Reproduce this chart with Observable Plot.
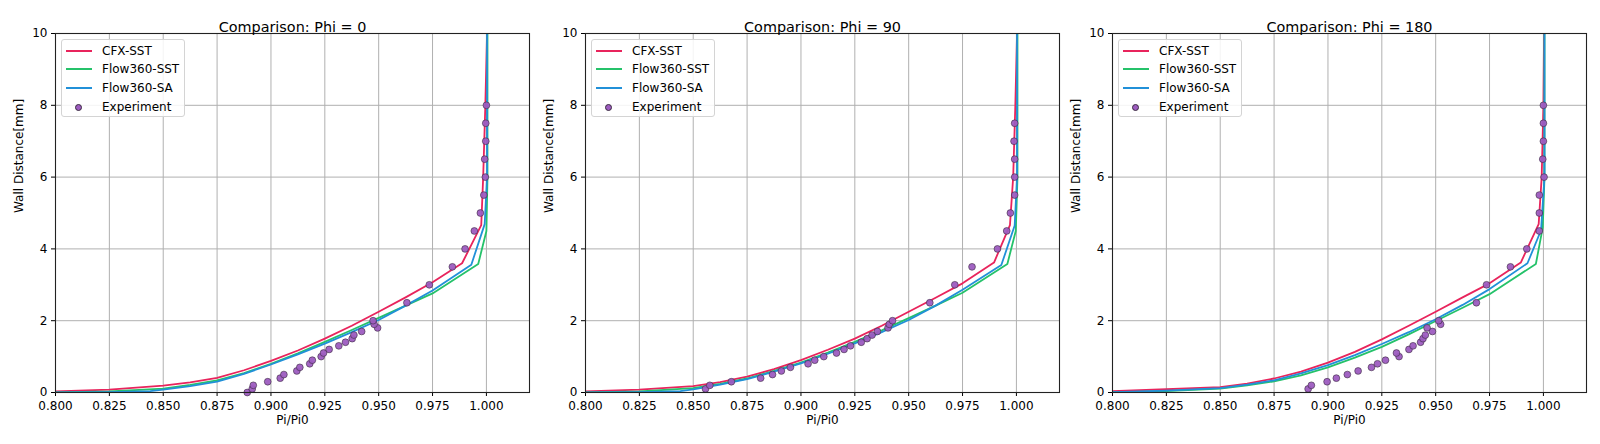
<!DOCTYPE html>
<html><head><meta charset="utf-8">
<script src="https://cdn.jsdelivr.net/npm/d3@7"></script>
<script src="https://cdn.jsdelivr.net/npm/@observablehq/plot@0.6"></script>
<style>
body{margin:0;background:#fff;}
#wrap{position:relative;width:1600px;height:444px;overflow:hidden;font-family:"DejaVu Sans",sans-serif;}
.panel{position:absolute;top:0;}
.legend{position:absolute;top:39px;width:124px;height:78px;box-sizing:border-box;border:1px solid #d4d4d4;border-radius:3px;background:rgba(255,255,255,0.85);font-size:12px;color:#000;}
.legend .row{position:absolute;left:0;height:0;}
.legend .sw{position:absolute;left:4px;width:26px;height:2px;margin-top:-1px;}
.legend .dot{position:absolute;left:13px;width:7px;height:7px;margin-top:-3.5px;border-radius:50%;background:#9d5cc0;border:0.6px solid #3a2a40;box-sizing:border-box;}
.legend .lab{position:absolute;left:40px;top:-8px;white-space:nowrap;line-height:16px;}
</style></head><body><div id="wrap"></div>
<script>
// ---- axis ticks ----
const xTicks = [0.800, 0.825, 0.850, 0.875, 0.900, 0.925, 0.950, 0.975, 1.000];
const yTicks = [0, 2, 4, 6, 8, 10];
const seriesNames = ["CFX-SST", "Flow360-SST", "Flow360-SA", "Experiment"];
const seriesColors = ["#e8245c", "#25c26a", "#2190d8", "#9d5cc0"];
const titles = ["Comparison: Phi = 0", "Comparison: Phi = 90", "Comparison: Phi = 180"];

// ---- Phi = 0 ----
const cfx0X = [0.770, 0.800, 0.825, 0.850, 0.8625, 0.875, 0.8875, 0.900, 0.9125, 0.925, 0.9375, 0.950, 0.9625, 0.975, 0.9887, 0.9976, 0.9985, 0.9995, 1.0003];
const cfx0Y = [0, 0.03, 0.08, 0.19, 0.28, 0.41, 0.62, 0.88, 1.17, 1.50, 1.86, 2.25, 2.65, 3.07, 3.60, 4.66, 6, 8, 10];
const sst0X = [0.780, 0.800, 0.825, 0.850, 0.8625, 0.875, 0.8875, 0.900, 0.9125, 0.925, 0.9375, 0.950, 0.9625, 0.975, 0.9962, 1.0000, 1.0005, 1.0005];
const sst0Y = [0, 0.005, 0.03, 0.11, 0.21, 0.34, 0.54, 0.80, 1.09, 1.41, 1.74, 2.08, 2.42, 2.76, 3.58, 4.50, 6, 10];
const sa0X = [0.780, 0.800, 0.825, 0.844, 0.850, 0.8625, 0.875, 0.8875, 0.900, 0.9125, 0.925, 0.9375, 0.950, 0.9625, 0.975, 0.993, 0.9992, 1.0003, 1.0003];
const sa0Y = [0, 0.002, 0.01, 0.04, 0.08, 0.18, 0.30, 0.52, 0.78, 1.06, 1.36, 1.68, 2.02, 2.42, 2.84, 3.56, 4.69, 6, 10];
const exp0X = [0.8890, 0.8913, 0.8918, 0.8985, 0.9043, 0.9060, 0.9120, 0.9134, 0.9180, 0.9192, 0.9233, 0.9244, 0.9270, 0.9315, 0.9346, 0.9377, 0.9385, 0.9421, 0.9495, 0.9479, 0.9474, 0.9631, 0.9735, 0.9842, 0.9901, 0.9944, 0.9972, 0.9988, 0.9995, 0.9992, 0.9997, 0.9997, 1.0000];
const exp0Y = [0, 0.1, 0.2, 0.3, 0.4, 0.5, 0.6, 0.7, 0.8, 0.9, 1.0, 1.1, 1.2, 1.3, 1.4, 1.5, 1.6, 1.7, 1.8, 1.9, 2.0, 2.5, 3.0, 3.5, 4.0, 4.5, 5.0, 5.5, 6.0, 6.5, 7.0, 7.5, 8.0];

// ---- Phi = 90 ----
const cfx90X = [0.770, 0.800, 0.825, 0.850, 0.8625, 0.875, 0.8875, 0.900, 0.9125, 0.925, 0.9375, 0.950, 0.9625, 0.975, 0.9896, 0.9970, 0.9985, 0.9995, 1.0003];
const cfx90Y = [0, 0.03, 0.08, 0.18, 0.29, 0.44, 0.65, 0.90, 1.19, 1.50, 1.86, 2.25, 2.64, 3.04, 3.62, 4.66, 6, 8, 10];
const sst90X = [0.780, 0.800, 0.825, 0.850, 0.8625, 0.875, 0.8875, 0.900, 0.9125, 0.925, 0.9375, 0.950, 0.9625, 0.975, 0.9958, 0.9997, 1.0005, 1.0005];
const sst90Y = [0, 0.005, 0.03, 0.12, 0.24, 0.39, 0.60, 0.83, 1.11, 1.41, 1.73, 2.07, 2.42, 2.78, 3.58, 4.50, 6, 10];
const sa90X = [0.780, 0.800, 0.825, 0.844, 0.850, 0.8625, 0.875, 0.8875, 0.900, 0.9125, 0.925, 0.9375, 0.950, 0.9625, 0.975, 0.993, 0.9992, 1.0003, 1.0003];
const sa90Y = [0, 0.002, 0.01, 0.04, 0.09, 0.22, 0.37, 0.58, 0.81, 1.08, 1.37, 1.68, 2.02, 2.42, 2.86, 3.55, 4.65, 6, 10];
const exp90X = [0.8557, 0.8577, 0.8677, 0.8813, 0.8868, 0.8909, 0.8951, 0.9033, 0.9064, 0.9106, 0.9165, 0.9200, 0.9230, 0.9280, 0.9307, 0.9330, 0.9355, 0.9404, 0.9410, 0.9425, 0.9598, 0.9714, 0.9794, 0.9912, 0.9955, 0.9972, 0.9992, 0.9992, 0.9992, 0.9989, 0.9992];
const exp90Y = [0.1, 0.2, 0.3, 0.4, 0.5, 0.6, 0.7, 0.8, 0.9, 1.0, 1.1, 1.2, 1.3, 1.4, 1.5, 1.6, 1.7, 1.8, 1.9, 2.0, 2.5, 3.0, 3.5, 4.0, 4.5, 5.0, 5.5, 6.0, 6.5, 7.0, 7.5];

// ---- Phi = 180 ----
const cfx180X = [0.770, 0.800, 0.825, 0.850, 0.8625, 0.875, 0.8875, 0.900, 0.9125, 0.925, 0.9375, 0.950, 0.9625, 0.975, 0.9895, 0.9978, 0.9992, 1.0000, 1.0003];
const cfx180Y = [0, 0.04, 0.09, 0.15, 0.25, 0.39, 0.58, 0.83, 1.13, 1.48, 1.86, 2.25, 2.65, 3.04, 3.62, 4.69, 6, 8, 10];
const sst180X = [0.780, 0.800, 0.825, 0.850, 0.8625, 0.875, 0.8875, 0.900, 0.9125, 0.925, 0.9375, 0.950, 0.9625, 0.975, 0.9965, 0.9997, 1.0005, 1.0005];
const sst180Y = [0, 0.005, 0.04, 0.11, 0.20, 0.31, 0.48, 0.70, 0.97, 1.27, 1.62, 1.99, 2.36, 2.74, 3.58, 4.60, 6, 10];
const sa180X = [0.780, 0.800, 0.825, 0.850, 0.8625, 0.875, 0.8875, 0.900, 0.9125, 0.925, 0.9375, 0.950, 0.9625, 0.975, 0.9926, 0.9989, 1.0005, 1.0005];
const sa180Y = [0, 0.01, 0.05, 0.12, 0.22, 0.34, 0.53, 0.76, 1.04, 1.35, 1.68, 2.04, 2.44, 2.88, 3.60, 4.52, 6, 10];
const exp180X = [0.8908, 0.8923, 0.8996, 0.9039, 0.9090, 0.9140, 0.9202, 0.9230, 0.9267, 0.9330, 0.9318, 0.9376, 0.9395, 0.9430, 0.9441, 0.9452, 0.9485, 0.9460, 0.9523, 0.9514, 0.9689, 0.9736, 0.9847, 0.9923, 0.9981, 0.9981, 0.9981, 1.0003, 0.9997, 1.0000, 1.0000, 1.0000];
const exp180Y = [0.1, 0.2, 0.3, 0.4, 0.5, 0.6, 0.7, 0.8, 0.9, 1.0, 1.1, 1.2, 1.3, 1.4, 1.5, 1.6, 1.7, 1.8, 1.9, 2.0, 2.5, 3.0, 3.5, 4.0, 4.5, 5.0, 5.5, 6.0, 6.5, 7.0, 7.5, 8.0];

const pts = (xs, ys) => xs.map((x, i) => ({x, y: ys[i]}));
const panels = [
  {title: titles[0], lines: [pts(cfx0X, cfx0Y), pts(sst0X, sst0Y), pts(sa0X, sa0Y)], exp: pts(exp0X, exp0Y), left: 0},
  {title: titles[1], lines: [pts(cfx90X, cfx90Y), pts(sst90X, sst90Y), pts(sa90X, sa90Y)], exp: pts(exp90X, exp90Y), left: 530},
  {title: titles[2], lines: [pts(cfx180X, cfx180Y), pts(sst180X, sst180Y), pts(sa180X, sa180Y)], exp: pts(exp180X, exp180Y), left: 1057}
];

const wrap = document.getElementById("wrap");
const ML = 55;
panels.forEach(p => {
  const chart = Plot.plot({
    width: 530, height: 444,
    marginLeft: ML, marginRight: 1, marginTop: 33, marginBottom: 52,
    x: {domain: [0.8, 1.02]},
    y: {domain: [0, 10]},
    style: {fontFamily: "DejaVu Sans", fontSize: "12px", color: "#000", background: "transparent", overflow: "visible"},
    marks: [
      Plot.gridX(xTicks, {stroke: "#b0b0b0", strokeOpacity: 1, strokeWidth: 1}),
      Plot.gridY(yTicks, {stroke: "#b0b0b0", strokeOpacity: 1, strokeWidth: 1}),
      Plot.axisX(xTicks, {tickFormat: d3.format(".3f"), tickSize: 4, tickPadding: 5, label: null, fontSize: 12}),
      Plot.axisY(yTicks, {tickSize: 4, tickPadding: 4, label: null, fontSize: 12}),
      ...p.lines.map((d, i) => Plot.line(d, {x: "x", y: "y", stroke: seriesColors[i], strokeWidth: 1.8, clip: true})),
      Plot.dot(p.exp, {x: "x", y: "y", r: 3.4, fill: seriesColors[3], fillOpacity: 0.95, stroke: "#3a2a40", strokeWidth: 0.6}),
      Plot.frame({stroke: "#222", strokeWidth: 1.1}),
      Plot.text([p.title], {text: d => d, frameAnchor: "top", dy: -12, fontSize: 14.4}),
      Plot.text(["Pi/Pi0"], {text: d => d, frameAnchor: "bottom", dy: 31, fontSize: 12}),
      Plot.text(["Wall Distance[mm]"], {text: d => d, frameAnchor: "left", dx: -36, rotate: -90, fontSize: 12})
    ]
  });
  const holder = document.createElement("div");
  holder.className = "panel";
  holder.style.left = p.left + "px";
  holder.appendChild(chart);
  wrap.appendChild(holder);

  const lg = document.createElement("div");
  lg.className = "legend";
  lg.style.left = (p.left + ML + 6) + "px";
  const rowsY = [10.5, 29.3, 48, 67];
  seriesNames.forEach((name, i) => {
    const row = document.createElement("div");
    row.className = "row";
    row.style.top = rowsY[i] + "px";
    const sw = document.createElement("div");
    if (i < 3) { sw.className = "sw"; sw.style.background = seriesColors[i]; }
    else { sw.className = "dot"; }
    const lab = document.createElement("div");
    lab.className = "lab";
    lab.textContent = name;
    row.appendChild(sw); row.appendChild(lab);
    lg.appendChild(row);
  });
  wrap.appendChild(lg);
});
</script></body></html>
